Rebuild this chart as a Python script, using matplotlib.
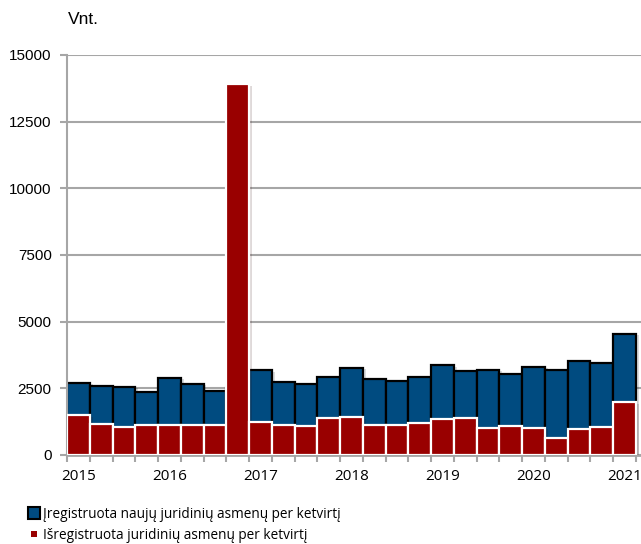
import matplotlib.pyplot as plt
import matplotlib.patheffects as pe
from matplotlib.lines import Line2D
import numpy as np

quarters = list(range(25))
registered = [2710, 2590, 2560, 2360, 2900, 2660, 2390, 2500, 3175, 2725, 2650, 2940,
              3275, 2860, 2760, 2940, 3360, 3160, 3200, 3050, 3310, 3175, 3525, 3440, 4540]
deregistered = [1490, 1175, 1065, 1125, 1125, 1125, 1125, 13900, 1225, 1125, 1100, 1375,
                1410, 1135, 1135, 1210, 1350, 1400, 1000, 1075, 1010, 650, 960, 1050, 1975]
year_labels = ['2015', '2016', '2017', '2018', '2019', '2020', '2021']
year_pos = [0, 4, 8, 12, 16, 20, 24]

label_reg = 'Įregistruota naujų juridinių asmenų per ketvirtį'
label_dereg = 'Išregistruota juridinių asmenų per ketvirtį'

blue = '#004B80'
red = '#990000'
grid_col = '#A6A6A6'

fig = plt.figure(figsize=(6.41, 5.44), dpi=100)
ax = fig.add_axes([67 / 641, 89 / 544, 574 / 641, 400 / 544])

shadow = [pe.SimplePatchShadow(offset=(2, -1), alpha=0.15), pe.Normal()]
ax.bar(quarters, registered, width=1.0, color=blue, edgecolor='black',
       linewidth=1.6, zorder=2, path_effects=shadow)
ax.bar(quarters, deregistered, width=1.0, color=red, edgecolor='white',
       linewidth=1.6, zorder=3, path_effects=shadow)

ax.set_ylim(0, 15000)
ax.set_xlim(-0.5, 24.72)
ax.set_yticks([0, 2500, 5000, 7500, 10000, 12500, 15000])
ax.yaxis.grid(True, color=grid_col, linewidth=1.5, zorder=0)
ax.set_axisbelow(True)

ax.set_xticks(np.arange(-0.5, 25, 1))
ax.set_xticklabels([])
ax.set_xticks(year_pos, minor=True)
ax.set_xticklabels(year_labels, minor=True, fontsize=11, family='Open Sans')
ax.tick_params(axis='x', which='major', length=5, width=1.5, color=grid_col)
ax.tick_params(axis='x', which='minor', length=0, pad=10)
ax.tick_params(axis='y', length=5, width=1.5, color=grid_col, labelsize=11, pad=6)
for lab in ax.get_yticklabels():
    lab.set_family('Liberation Sans')

for s in ['top', 'right']:
    ax.spines[s].set_visible(False)
ax.spines['left'].set_color(grid_col)
ax.spines['left'].set_linewidth(1.5)
ax.spines['bottom'].set_color(grid_col)
ax.spines['bottom'].set_linewidth(2)

fig.text(68 / 641, 1 - 20 / 544, 'Vnt.', fontsize=12.5, family='Liberation Sans',
         va='center', ha='left')

h_reg = Line2D([], [], linestyle='none', marker='s', markersize=8.5,
               markerfacecolor=blue, markeredgecolor='black', markeredgewidth=1.5)
h_dereg = Line2D([], [], linestyle='none', marker='s', markersize=5,
                 markerfacecolor=red, markeredgecolor=red, markeredgewidth=0)
ax.legend([h_reg, h_dereg], [label_reg, label_dereg], loc='upper left',
          bbox_to_anchor=(27 / 641, 1 - 507 / 544), bbox_transform=fig.transFigure,
          frameon=False, prop={'family': 'Open Sans', 'size': 9.8},
          handlelength=1.0, handletextpad=0.2, labelspacing=0.45,
          borderaxespad=0, borderpad=0)

fig.savefig('out.png', dpi=100)
